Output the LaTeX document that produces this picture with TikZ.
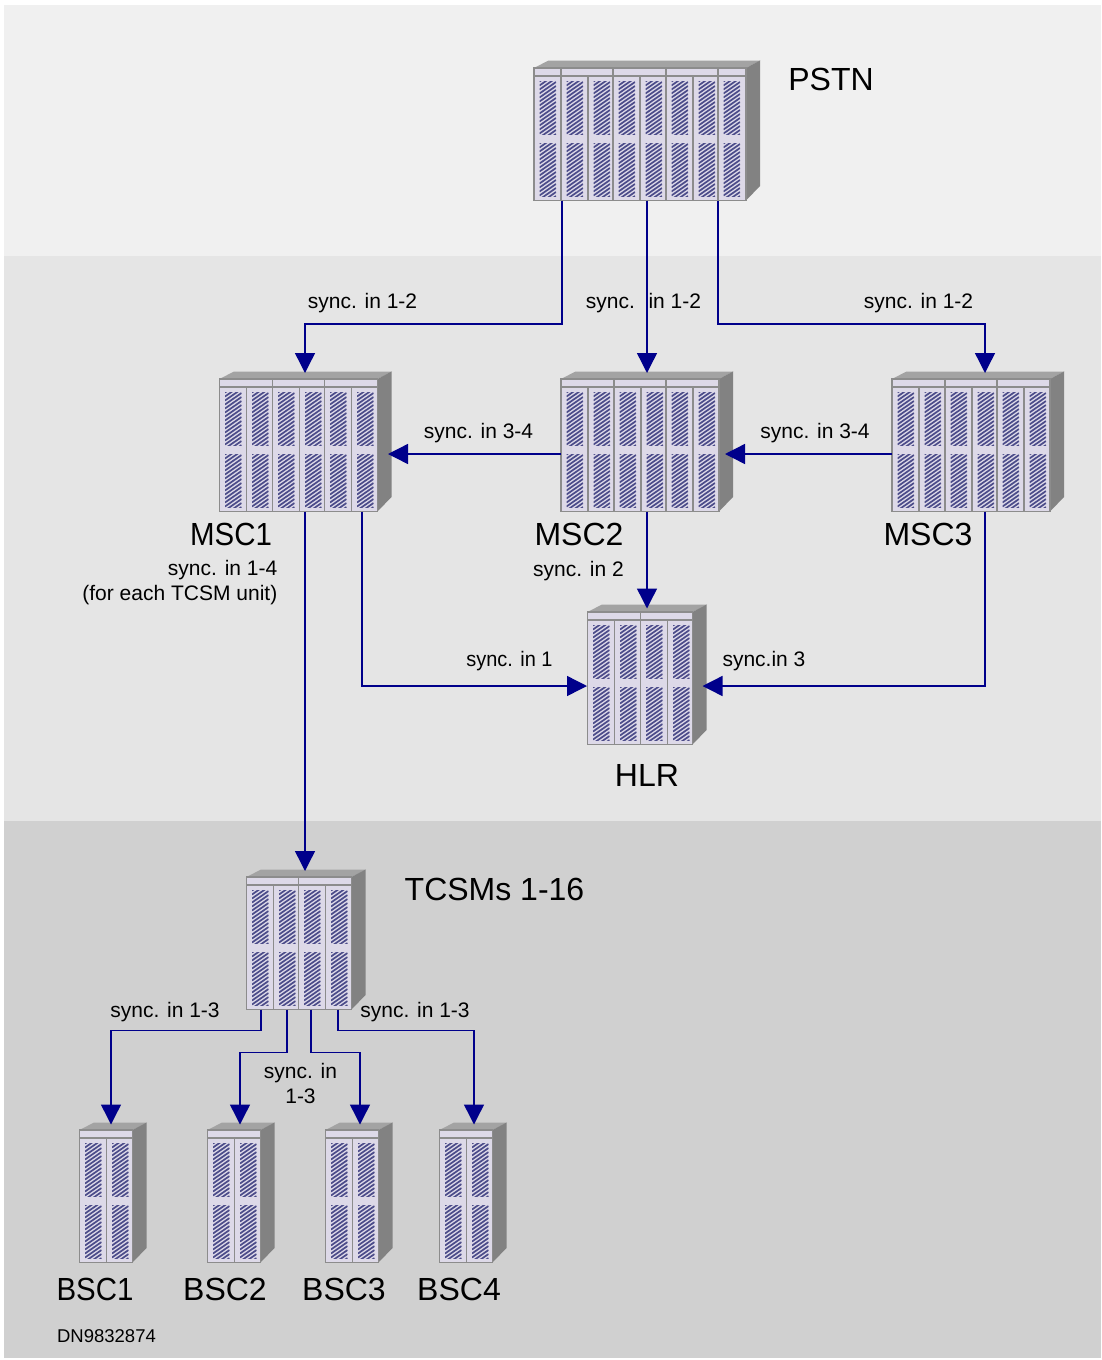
\documentclass[tikz,border=0pt]{standalone}
\usepackage{fontspec}
\setmainfont{Liberation Sans}
\usetikzlibrary{arrows.meta}
\definecolor{arrowblue}{HTML}{00008B}
\definecolor{rackfill}{HTML}{DDD9E8}
\definecolor{rackline}{HTML}{8C8C8C}
\definecolor{racktop}{HTML}{A3A3A3}
\definecolor{rackside}{HTML}{828282}
\definecolor{vent}{HTML}{4C4C8A}
\tikzset{
  x=1pt,y=-1pt,
  rackbody/.style={draw=rackline,line width=1.6pt,fill=rackfill,inner sep=0pt,outer sep=0pt,anchor=north west},
  rackrule/.style={draw=rackline,line width=1.6pt},
  ventline/.style={draw=vent,line width=1.7pt},
  link/.style={draw=arrowblue,line width=1.4pt,-{Triangle[length=20pt,width=20pt]}},
  small/.style={font=\fontsize{21}{25}\selectfont,inner sep=0pt},
  narrowsmall/.style={small,transform shape,xscale=0.95},
  big/.style={font=\fontsize{32}{36}\selectfont,inner sep=0pt},
  narrowbig/.style={big,transform shape,xscale=0.92},
  note/.style={font=\fontsize{18.5}{22}\selectfont,inner sep=0pt}
}
% x, y, height of one hatched vent panel
\newcommand{\ventpanel}[3]{%
  \begin{scope}
    \clip (#1,#2) rectangle ++(16.5,#3);
    \foreach \k in {0,4,...,68} {\draw[ventline] (#1,{#2+\k}) -- ++(16.5,-11.5);}
  \end{scope}
}
% name, left, top, total width, slot list a/b, header dividers
\newcommand{\rack}[6]{%
  \fill[racktop] (#2,#3) -- ++(14.5,-7.5) -- ++(#4,0) -- ++(-14.5,7.5) -- cycle;
  \fill[rackside] ({#2+#4},#3) -- ++(14,-7.5) -- ++(0,125.5) -- ++(-14,14.5) -- cycle;
  \node[rackbody,minimum width={#4*1pt},minimum height=132.5pt] (#1) at (#2,#3) {};
  \draw[rackrule] (#2,{#3+8}) -- ++(#4,0);
  \foreach \d in {#6} {\draw[rackrule] ({#2+\d},#3) -- ++(0,8);}
  \foreach \a/\b in {#5} {
    \ifdim\b pt<#4pt \draw[rackrule] ({#2+\b},{#3+8}) -- ({#2+\b},{#3+132.5}); \fi
    \ventpanel{#2+\a+5.5}{#3+13.5}{53}
    \ventpanel{#2+\a+5.5}{#3+75.5}{52.5}
  }
}
\begin{document}
\begin{tikzpicture}
\useasboundingbox (0,0) rectangle (1101,1360);
\fill[white] (0,0) rectangle (1101,1360);
\fill[fill=black!6] (4,5) rectangle (1101,256);
\fill[fill=black!10] (4,256) rectangle (1101,821);
\fill[fill=black!18.5] (4,821) rectangle (1101,1358);

\rack{pstn}{534}{68}{212}{0/27,27/54,54/79,79/106,106/132,132/159,159/184,184/212}{27,79,132,184}
\rack{msc1}{219.5}{379}{158}{0/27,27/53,53/80,80/105,105/132,132/158}{53,105}
\rack{msc2}{561}{379}{158}{0/27,27/53,53/80,80/105,105/132,132/158}{53,105}
\rack{msc3}{892}{379}{158}{0/27,27/53,53/80,80/105,105/132,132/158}{53,105}
\rack{hlr}{587.5}{612}{105}{0/27,27/53,53/80,80/105}{53}
\rack{tcsm}{246.5}{877}{105}{0/27,27/52,52/79,79/105}{52}
\rack{bsc1}{79.5}{1130}{53}{0/27,27/53}{}
\rack{bsc2}{207.5}{1130}{53}{0/27,27/53}{}
\rack{bsc3}{325.5}{1130}{53}{0/27,27/53}{}
\rack{bsc4}{439.5}{1130}{53}{0/27,27/53}{}

\coordinate (m1top) at (305,373);
\coordinate (m2top) at (647,373);
\coordinate (m3top) at (985,373);
\draw[link] ([xshift=28pt]pstn.south west) -- ++(0,123.5) -| (m1top);
\draw[link] ([xshift=113pt]pstn.south west) -- (m2top);
\draw[link] ([xshift=184pt]pstn.south west) -- ++(0,123.5) -| (m3top);

\coordinate (m1r) at (388,454);
\coordinate (m2r) at (725,454);
\coordinate (hlrtop) at (647,608.5);
\coordinate (hlrl) at (587,686);
\coordinate (hlrr) at (702.5,686);
\coordinate (tcsmtop) at (305,871);
\coordinate (b1top) at (111,1124.5);
\coordinate (b2top) at (240,1124.5);
\coordinate (b3top) at (360,1124.5);
\coordinate (b4top) at (474,1124.5);
\draw[link] (msc2.west |- m1r) -- (m1r);
\draw[link] (msc3.west |- m2r) -- (m2r);
\draw[link] (m2top |- msc2.south) -- (hlrtop);
\draw[link] ([xshift=142.5pt]msc1.south west) |- (hlrl);
\draw[link] (m3top |- msc3.south) |- (hlrr);
\draw[link] (m1top |- msc1.south) -- (tcsmtop);

\draw[link] ([xshift=14.5pt]tcsm.south west) -- ++(0,21) -| (b1top);
\draw[link] ([xshift=40.5pt]tcsm.south west) -- ++(0,43) -| (b2top);
\draw[link] ([xshift=64.5pt]tcsm.south west) -- ++(0,43) -| (b3top);
\draw[link] ([xshift=91.5pt]tcsm.south west) -- ++(0,21) -| (b4top);

\node[big] (lpstn) at (831,79) {PSTN};
\node[narrowbig] (lmsc1) at (231,534) {MSC1};
\node[big] (lmsc2) at (579,534) {MSC2};
\node[big] (lmsc3) at (928,534) {MSC3};
\node[big] (lhlr) at (647,775) {HLR};
\node[big] (ltcsm) at (494.5,889) {TCSMs 1-16};
\node[narrowbig] (lb1) at (95,1289) {BSC1};
\node[big] (lb2) at (225,1289) {BSC2};
\node[big] (lb3) at (344,1289) {BSC3};
\node[big] (lb4) at (459,1289) {BSC4};
\node[note] (dn) at (106.5,1336) {DN9832874};

\node[small] (s1) at (362.5,303) {sync. in 1-2};
\node[small] (s2) at (643.5,303) {sync. \ in 1-2};
\node[small] (s3) at (918.5,303) {sync. in 1-2};
\node[small] (s4) at (478.5,433) {sync. in 3-4};
\node[small] (s5) at (815,433) {sync. in 3-4};
\node[small,align=right,anchor=east] (s6) at (277.5,583) {sync. in 1-4\\(for each TCSM unit)};
\node[small] (s7) at (578.5,571) {sync. in 2};
\node[narrowsmall] (s8) at (509.5,661) {sync. in 1};
\node[small] (s9) at (764,661) {sync.in 3};
\node[small] (s10) at (165,1012) {sync. in 1-3};
\node[small] (s11) at (415,1012) {sync. in 1-3};
\node[small,align=center] (s12) at (300.5,1083) {sync. in\\1-3};
\end{tikzpicture}
\end{document}
